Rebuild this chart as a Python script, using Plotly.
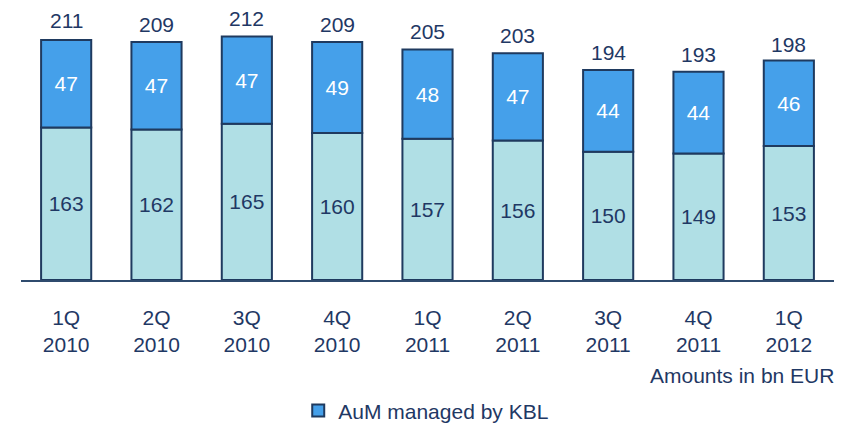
import plotly.graph_objects as go

quarters = ["1Q<br>2010", "2Q<br>2010", "3Q<br>2010", "4Q<br>2010", "1Q<br>2011",
            "2Q<br>2011", "3Q<br>2011", "4Q<br>2011", "1Q<br>2012"]
other_aum = [163, 162, 165, 160, 157, 156, 150, 149, 153]
kbl_aum = [47, 47, 47, 49, 48, 47, 44, 44, 46]
totals = [211, 209, 212, 209, 205, 203, 194, 193, 198]

AXIS_MIN = 81      # value axis is broken: bars start at this value
AXIS_MAX = 226.2

NAVY = "#1F3864"
OUTLINE = "#1F3A5F"
LIGHT = "#B0DFE5"
BLUE = "#45A0EA"
FONT = "Arial, Liberation Sans, sans-serif"

fig = go.Figure()
fig.add_trace(go.Bar(
    x=quarters, y=[v - AXIS_MIN for v in other_aum], base=[AXIS_MIN] * len(other_aum),
    text=[str(v) for v in other_aum], textposition="inside", insidetextanchor="middle",
    textfont=dict(size=21, color=NAVY, family=FONT),
    marker=dict(color=LIGHT, line=dict(color=OUTLINE, width=2)),
    width=0.555, showlegend=False, name="Other AuM",
))
fig.add_trace(go.Bar(
    x=quarters, y=kbl_aum, base=other_aum,
    text=[str(v) for v in kbl_aum], textposition="inside", insidetextanchor="middle",
    textfont=dict(size=21, color="white", family=FONT),
    marker=dict(color=BLUE, line=dict(color=OUTLINE, width=2)),
    width=0.555, showlegend=True, name="AuM managed by KBL",
))

for q, t in zip(quarters, totals):
    fig.add_annotation(x=q, y=t, text=str(t), showarrow=False, yanchor="bottom",
                       yshift=4, font=dict(size=21, color=NAVY, family=FONT))

fig.add_annotation(xref="paper", yref="paper", x=1, y=-0.352, xanchor="right",
                   yanchor="middle", xshift=2, text="Amounts in bn EUR", showarrow=False,
                   font=dict(size=21, color=NAVY, family=FONT))

# page body has an 8px default margin, so the figure is sized to fit the window
fig.update_layout(
    width=839, height=416,
    margin=dict(l=13, r=13, t=2, b=144, autoexpand=False),
    paper_bgcolor="white", plot_bgcolor="white",
    barmode="overlay",
    font=dict(family=FONT, size=21, color=NAVY),
    showlegend=True,
    legend=dict(orientation="h", x=0.341, xanchor="left", y=-0.485, yanchor="middle",
                font=dict(size=21, color=NAVY, family=FONT)),
    xaxis=dict(showline=True, linecolor="#2F4B6E", linewidth=1.5, ticks="",
               showgrid=False, tickfont=dict(size=21, color=NAVY, family=FONT),
               range=[-0.5, 8.5], automargin=False, ticklabelstandoff=18),
    yaxis=dict(range=[AXIS_MIN, AXIS_MAX], visible=False, showgrid=False, automargin=False),
)

fig.write_html("out.html")
